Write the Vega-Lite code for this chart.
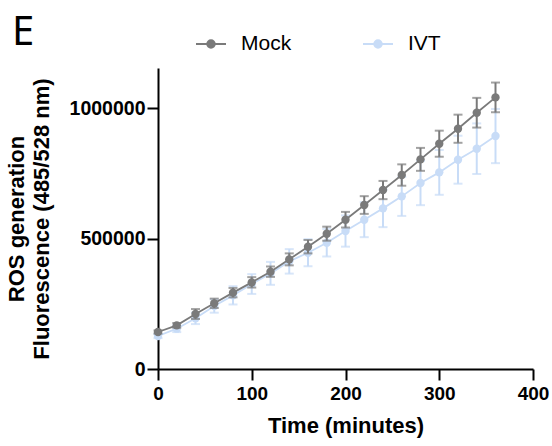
{
  "$schema": "https://vega.github.io/schema/vega-lite/v6.json",
  "width": 375,
  "height": 301,
  "autosize": "none",
  "padding": {"left": 158, "top": 68, "right": 19, "bottom": 77},
  "background": "white",
  "title": {"text": "E", "anchor": "start", "frame": "group", "font": "Noto Sans", "fontSize": 40, "fontWeight": "normal", "color": "black", "dx": -146, "dy": 25, "offset": 0},
  "data": {"values": [
    {"group": "IVT", "t": 0, "mean": 126600, "err": 8000},
    {"group": "IVT", "t": 20, "mean": 154700, "err": 13000},
    {"group": "IVT", "t": 40, "mean": 194400, "err": 22000},
    {"group": "IVT", "t": 60, "mean": 241700, "err": 25600},
    {"group": "IVT", "t": 80, "mean": 282600, "err": 35000},
    {"group": "IVT", "t": 100, "mean": 326100, "err": 38000},
    {"group": "IVT", "t": 120, "mean": 367000, "err": 44000},
    {"group": "IVT", "t": 140, "mean": 413000, "err": 47000},
    {"group": "IVT", "t": 160, "mean": 446300, "err": 52000},
    {"group": "IVT", "t": 180, "mean": 484700, "err": 53000},
    {"group": "IVT", "t": 200, "mean": 529400, "err": 60000},
    {"group": "IVT", "t": 220, "mean": 572900, "err": 67000},
    {"group": "IVT", "t": 240, "mean": 616400, "err": 72000},
    {"group": "IVT", "t": 260, "mean": 662400, "err": 75000},
    {"group": "IVT", "t": 280, "mean": 713600, "err": 85000},
    {"group": "IVT", "t": 300, "mean": 754500, "err": 86000},
    {"group": "IVT", "t": 320, "mean": 803100, "err": 92000},
    {"group": "IVT", "t": 340, "mean": 845300, "err": 97000},
    {"group": "IVT", "t": 360, "mean": 893900, "err": 104000},
    {"group": "Mock", "t": 0, "mean": 142000, "err": 6000},
    {"group": "Mock", "t": 20, "mean": 167500, "err": 9000},
    {"group": "Mock", "t": 40, "mean": 211000, "err": 19000},
    {"group": "Mock", "t": 60, "mean": 252000, "err": 18000},
    {"group": "Mock", "t": 80, "mean": 293000, "err": 18000},
    {"group": "Mock", "t": 100, "mean": 332500, "err": 20000},
    {"group": "Mock", "t": 120, "mean": 373400, "err": 20000},
    {"group": "Mock", "t": 140, "mean": 420700, "err": 23000},
    {"group": "Mock", "t": 160, "mean": 469300, "err": 25600},
    {"group": "Mock", "t": 180, "mean": 519200, "err": 27000},
    {"group": "Mock", "t": 200, "mean": 572900, "err": 30000},
    {"group": "Mock", "t": 220, "mean": 629200, "err": 34000},
    {"group": "Mock", "t": 240, "mean": 686700, "err": 35000},
    {"group": "Mock", "t": 260, "mean": 744300, "err": 41000},
    {"group": "Mock", "t": 280, "mean": 804400, "err": 44000},
    {"group": "Mock", "t": 300, "mean": 864500, "err": 50000},
    {"group": "Mock", "t": 320, "mean": 922000, "err": 54000},
    {"group": "Mock", "t": 340, "mean": 983400, "err": 57000},
    {"group": "Mock", "t": 360, "mean": 1042200, "err": 57000}
  ]},
  "encoding": {
    "x": {"field": "t", "type": "quantitative",
      "scale": {"domain": [0, 400], "nice": false, "zero": false},
      "axis": {"values": [0, 100, 200, 300, 400], "title": "Time (minutes)", "grid": false, "labelPadding": 4, "titlePadding": 12, "labelFlush": false}},
    "y": {"field": "mean", "type": "quantitative",
      "scale": {"domain": [0, 1155000], "nice": false},
      "axis": {"values": [0, 500000, 1000000], "format": "d", "title": ["ROS generation", "Fluorescence (485/528 nm)"], "titleLineHeight": 25, "grid": false, "labelPadding": 2, "titlePadding": 16, "labelFontSize": 19.5}},
    "color": {"field": "group", "type": "nominal",
      "scale": {"domain": ["Mock", "IVT"], "range": ["#7a7a7a", "#c8dcf7"]},
      "legend": {"title": null, "orient": "none", "legendX": 37, "legendY": -40, "direction": "horizontal",
        "symbolType": "M-1,0L1,0M-0.25,0A0.25,0.25,0,1,1,0.25,0A0.25,0.25,0,1,1,-0.25,0Z",
        "symbolSize": 900, "labelFont": "Liberation Sans", "labelFontSize": 21, "labelColor": "black", "labelOffset": 14, "columnPadding": 67,
        "encode": {"symbols": {"update": {"fill": {"scale": "color", "field": "value"}, "stroke": {"scale": "color", "field": "value"}, "strokeWidth": {"value": 2}, "opacity": {"value": 1}}}}}}
  },
  "layer": [
    {"transform": [{"filter": "datum.group === 'IVT'"}],
     "layer": [
      {"mark": {"type": "errorbar", "ticks": {"size": 9, "thickness": 2}, "thickness": 2}, "encoding": {"yError": {"field": "err"}}},
      {"mark": {"type": "line", "strokeWidth": 1.8}},
      {"mark": {"type": "point", "filled": true, "size": 70, "opacity": 1}}
     ]},
    {"transform": [{"filter": "datum.group === 'Mock'"}],
     "layer": [
      {"mark": {"type": "errorbar", "ticks": {"size": 9, "thickness": 2}, "thickness": 2}, "encoding": {"yError": {"field": "err"}}},
      {"mark": {"type": "line", "strokeWidth": 1.8}},
      {"mark": {"type": "point", "filled": true, "size": 70, "opacity": 1}}
     ]}
  ],
  "config": {
    "view": {"stroke": null},
    "axis": {"domainColor": "black", "domainWidth": 2, "tickColor": "black", "tickWidth": 2, "tickSize": 11,
      "labelFont": "Liberation Sans", "labelFontWeight": "bold", "labelFontSize": 19, "labelColor": "black",
      "titleFont": "Liberation Sans", "titleFontWeight": "bold", "titleFontSize": 22, "titleColor": "black"}
  }
}
